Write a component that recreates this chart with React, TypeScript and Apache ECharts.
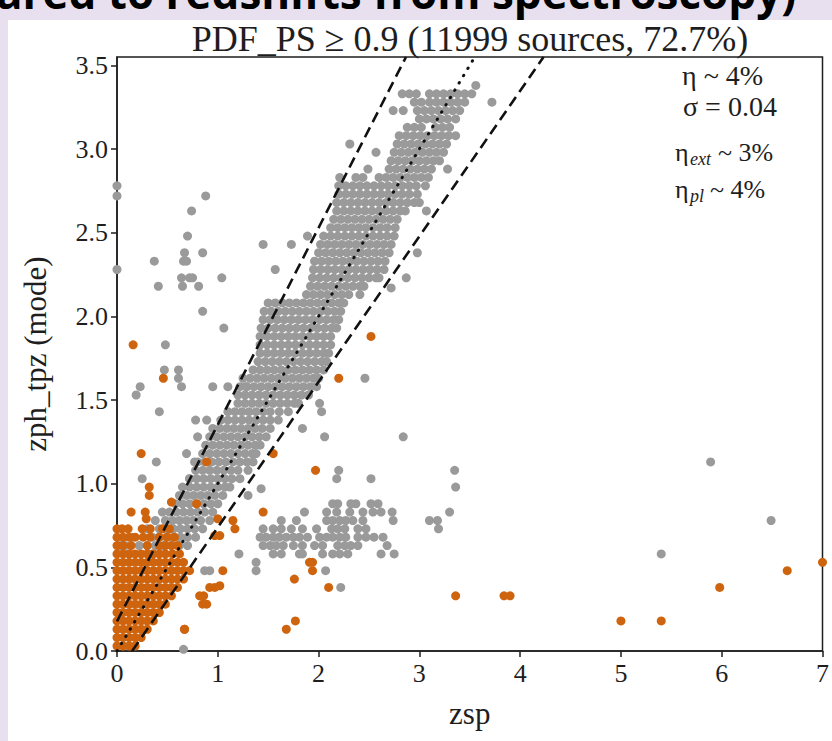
import React, { useEffect, useRef } from "react";
import * as echarts from "echarts";

const xTicks = [0, 1, 2, 3, 4, 5, 6, 7];
const yTicks = [0, 0.5, 1, 1.5, 2, 2.5, 3, 3.5];

// Dense gray band: [zph, zsp values]
const grayBandRows: [number, number[]][] = [
  [3.33, [2.83, 2.9, 2.97, 3.1, 3.17, 3.24, 3.31, 3.38, 3.45, 3.52]],
  [3.28, [2.95, 3.02, 3.1, 3.17, 3.24, 3.31, 3.38, 3.45]],
  [3.23, [2.98, 3.05, 3.12, 3.19, 3.26, 3.33, 3.4]],
  [3.18, [3.0, 3.07, 3.14, 3.21, 3.28, 3.36]],
  [3.13, [2.88, 2.95, 3.02, 3.16, 3.23, 3.3]],
  [3.08, [2.8, 2.87, 2.94, 3.01, 3.08, 3.15, 3.22, 3.29, 3.36]],
  [3.03, [2.78, 2.85, 2.92, 2.99, 3.06, 3.13, 3.2, 3.27]],
  [2.98, [2.75, 2.82, 2.89, 2.96, 3.03, 3.1, 3.17, 3.24]],
  [2.93, [2.72, 2.79, 2.86, 2.93, 3.0, 3.07, 3.14, 3.2]],
  [2.88, [2.7, 2.77, 2.84, 2.91, 2.98, 3.05, 3.12]],
  [2.83, [2.37, 2.44, 2.6, 2.67, 2.74, 2.81, 2.88, 2.95, 3.02, 3.09]],
  [2.78, [2.2, 2.27, 2.34, 2.41, 2.48, 2.55, 2.62, 2.69, 2.76, 2.83, 2.9, 2.97, 3.06]],
  [2.73, [2.2, 2.27, 2.34, 2.41, 2.48, 2.55, 2.62, 2.69, 2.76, 2.83, 2.9, 2.98]],
  [2.68, [2.18, 2.25, 2.32, 2.39, 2.46, 2.53, 2.6, 2.67, 2.74, 2.81, 2.88, 2.95, 3.0]],
  [2.63, [2.18, 2.25, 2.32, 2.39, 2.46, 2.53, 2.6, 2.67, 2.74, 2.81, 2.86]],
  [2.58, [2.15, 2.22, 2.29, 2.36, 2.43, 2.5, 2.57, 2.64, 2.71, 2.78]],
  [2.53, [2.12, 2.19, 2.26, 2.33, 2.4, 2.47, 2.54, 2.61, 2.68, 2.76]],
  [2.48, [2.05, 2.12, 2.19, 2.26, 2.33, 2.4, 2.47, 2.54, 2.61, 2.68, 2.75]],
  [2.43, [2.02, 2.09, 2.16, 2.23, 2.3, 2.37, 2.44, 2.51, 2.58, 2.65, 2.72]],
  [2.38, [2.0, 2.07, 2.14, 2.21, 2.28, 2.35, 2.42, 2.49, 2.56, 2.63, 2.7]],
  [2.33, [1.96, 2.03, 2.1, 2.17, 2.24, 2.31, 2.38, 2.45, 2.52, 2.59, 2.66]],
  [2.28, [1.95, 2.02, 2.09, 2.16, 2.23, 2.3, 2.37, 2.44, 2.51, 2.58, 2.65]],
  [2.23, [1.94, 2.01, 2.08, 2.15, 2.22, 2.29, 2.36, 2.43, 2.5, 2.57, 2.6]],
  [2.18, [1.92, 1.99, 2.06, 2.13, 2.2, 2.27, 2.34, 2.41, 2.45]],
  [2.13, [1.88, 1.95, 2.02, 2.09, 2.16, 2.23, 2.3]],
  [2.08, [1.5, 1.57, 1.64, 1.71, 1.78, 1.85, 1.92, 1.99, 2.06, 2.13, 2.2, 2.25]],
  [2.03, [1.46, 1.53, 1.6, 1.67, 1.74, 1.81, 1.88, 1.95, 2.02, 2.09, 2.16, 2.22]],
  [1.98, [1.45, 1.52, 1.59, 1.66, 1.73, 1.8, 1.87, 1.94, 2.01, 2.08, 2.15, 2.2]],
  [1.93, [1.43, 1.5, 1.57, 1.64, 1.71, 1.78, 1.85, 1.92, 1.99, 2.06, 2.13, 2.18]],
  [1.88, [1.42, 1.49, 1.56, 1.63, 1.7, 1.77, 1.84, 1.91, 1.98, 2.05, 2.12]],
  [1.83, [1.42, 1.49, 1.56, 1.63, 1.7, 1.77, 1.84, 1.91, 1.98, 2.05, 2.12]],
  [1.78, [1.42, 1.49, 1.56, 1.63, 1.7, 1.77, 1.84, 1.91, 1.98, 2.05, 2.1]],
  [1.73, [1.4, 1.47, 1.54, 1.61, 1.68, 1.75, 1.82, 1.89, 1.96, 2.03, 2.08]],
  [1.68, [1.35, 1.42, 1.49, 1.56, 1.63, 1.7, 1.77, 1.84, 1.91, 1.98, 2.05]],
  [1.63, [1.25, 1.32, 1.39, 1.46, 1.53, 1.6, 1.67, 1.74, 1.81, 1.88, 1.95, 2.0]],
  [1.58, [1.22, 1.29, 1.36, 1.43, 1.5, 1.57, 1.64, 1.71, 1.78, 1.85, 1.92, 1.98]],
  [1.53, [1.2, 1.27, 1.34, 1.41, 1.48, 1.55, 1.62, 1.69, 1.76, 1.83, 1.9]],
  [1.48, [1.2, 1.27, 1.34, 1.41, 1.48, 1.55, 1.62, 1.69, 1.76, 1.8]],
  [1.43, [1.1, 1.17, 1.24, 1.31, 1.38, 1.45, 1.52, 1.61, 1.7]],
  [1.38, [1.03, 1.1, 1.17, 1.24, 1.31, 1.38, 1.45, 1.52, 1.6]],
  [1.33, [0.95, 1.02, 1.09, 1.16, 1.23, 1.3, 1.37, 1.44, 1.52]],
  [1.28, [0.92, 0.99, 1.06, 1.13, 1.2, 1.27, 1.34, 1.41, 1.48]],
  [1.23, [0.88, 0.95, 1.02, 1.09, 1.16, 1.23, 1.3, 1.37, 1.42]],
  [1.18, [0.85, 0.92, 0.99, 1.06, 1.13, 1.2, 1.27, 1.34, 1.38]],
  [1.13, [0.8, 0.87, 0.94, 1.01, 1.08, 1.15, 1.22, 1.29, 1.35]],
  [1.08, [0.78, 0.85, 0.92, 0.99, 1.06, 1.13, 1.2, 1.3]],
  [1.03, [0.72, 0.79, 0.86, 0.93, 1.0, 1.07, 1.14, 1.22]],
  [0.98, [0.65, 0.72, 0.79, 0.86, 0.93, 1.0, 1.07, 1.12]],
  [0.93, [0.62, 0.69, 0.76, 0.83, 0.9, 0.97, 1.05]],
  [0.88, [0.58, 0.65, 0.72, 0.79, 0.86, 0.93, 1.0]],
  [0.83, [0.52, 0.59, 0.66, 0.73, 0.8, 0.87, 0.95]],
  [0.78, [0.48, 0.55, 0.62, 0.69, 0.76, 0.83, 0.92]],
  [0.73, [0.42, 0.49, 0.56, 0.63, 0.7, 0.77, 0.85]],
  [0.68, [0.35, 0.42, 0.49, 0.56, 0.63, 0.7, 0.78]],
  [0.63, [0.3, 0.38, 0.46, 0.54, 0.62, 0.7]],
];

// Gray cluster of catastrophic outliers at low zph, high zsp
const grayClusterRows: [number, number[]][] = [
  [0.88, [2.14, 2.19, 2.32, 2.37, 2.52, 2.59]],
  [0.83, [1.86, 2.08, 2.18, 2.31, 2.44, 2.54, 2.62, 2.73, 3.3]],
  [0.78, [1.63, 1.78, 2.08, 2.14, 2.21, 2.27, 2.34, 2.44, 2.74, 3.1, 3.18, 6.49]],
  [0.73, [1.45, 1.55, 1.63, 1.73, 1.84, 1.98, 2.13, 2.19, 2.26, 2.39, 2.47, 3.19]],
  [0.68, [1.42, 1.48, 1.55, 1.61, 1.68, 1.75, 1.81, 1.89, 2.01, 2.08, 2.14, 2.21, 2.27, 2.39, 2.47, 2.55, 2.64]],
  [0.63, [1.45, 1.52, 1.58, 1.65, 1.75, 1.84, 1.96, 2.04, 2.19, 2.26, 2.32, 2.39, 2.68]],
  [0.58, [1.21, 1.55, 1.63, 1.81, 1.84, 2.04, 2.14, 2.21, 2.29, 2.62, 2.75, 5.4]],
];

// Individual gray points [zsp, zph]
const grayPoints: number[][] = [
  [0.0, 2.78], [0.0, 2.72], [0.0, 2.28],
  [0.88, 2.72], [0.74, 2.63], [0.7, 2.48], [0.67, 2.38], [0.85, 2.38], [0.37, 2.33], [0.66, 2.33],
  [0.69, 2.33], [0.64, 2.23], [0.72, 2.23], [0.75, 2.23], [1.04, 2.23], [0.41, 2.18], [0.65, 2.18],
  [0.81, 2.18], [0.85, 2.03], [1.06, 1.93],
  [1.45, 2.43], [1.73, 2.43], [1.89, 2.48], [1.57, 2.28],
  [0.48, 1.83], [0.47, 1.68], [0.61, 1.68], [0.61, 1.63], [0.23, 1.58], [0.64, 1.58], [0.19, 1.53],
  [0.42, 1.43], [0.95, 1.58], [1.1, 1.58], [1.28, 1.58], [0.78, 1.38], [0.89, 1.38], [0.8, 1.28],
  [0.39, 1.13], [0.25, 1.03], [0.69, 1.18], [0.77, 1.13], [0.72, 1.03],
  [1.3, 0.93], [1.43, 0.97], [1.84, 1.33], [2.06, 1.28], [2.84, 1.28], [2.2, 1.08], [2.18, 1.03],
  [2.52, 1.03], [3.35, 1.08], [3.36, 0.98],
  [1.38, 0.53], [1.38, 0.48], [0.87, 0.48], [0.92, 0.48], [2.07, 0.48], [2.22, 0.38], [0.66, 0.01],
  [5.89, 1.13],
  [2.01, 1.48], [2.03, 1.43], [2.46, 1.63], [2.41, 2.13], [2.72, 2.17], [2.87, 2.23], [2.98, 2.38],
  [3.07, 2.63], [2.21, 2.83], [2.31, 3.03], [2.57, 2.98], [2.49, 2.88], [3.28, 2.88], [2.74, 3.23],
  [2.84, 3.23], [3.56, 3.38], [3.72, 3.28],
  [0.08, 0.63], [0.15, 0.68], [0.22, 0.63], [0.3, 0.73], [0.38, 0.78], [0.12, 0.58], [0.45, 0.83],
  [0.35, 0.58], [0.03, 0.63],
];

// Dense orange wedge: [zph, zsp values]
const orangeRows: [number, number[]][] = [
  [0.73, [0.0, 0.05, 0.11, 0.25, 0.33, 0.45, 0.52]],
  [0.68, [0.0, 0.06, 0.12, 0.18, 0.26, 0.33, 0.42, 0.5, 0.57]],
  [0.63, [0.0, 0.06, 0.14, 0.3, 0.42, 0.48, 0.54, 0.6]],
  [0.58, [0.0, 0.06, 0.12, 0.18, 0.24, 0.3, 0.36, 0.42, 0.48, 0.55, 0.62]],
  [0.53, [0.0, 0.06, 0.12, 0.18, 0.24, 0.3, 0.36, 0.42, 0.48, 0.54, 0.6, 0.66]],
  [0.48, [0.0, 0.06, 0.12, 0.18, 0.24, 0.3, 0.36, 0.42, 0.48, 0.54, 0.6, 0.66, 0.72]],
  [0.43, [0.0, 0.06, 0.12, 0.18, 0.24, 0.3, 0.36, 0.42, 0.48, 0.54, 0.6, 0.66]],
  [0.38, [0.0, 0.06, 0.12, 0.18, 0.24, 0.3, 0.36, 0.42, 0.48, 0.54, 0.6, 0.92, 0.97]],
  [0.33, [0.0, 0.06, 0.12, 0.18, 0.24, 0.3, 0.36, 0.42, 0.48, 0.54, 0.82, 0.86]],
  [0.28, [0.0, 0.06, 0.12, 0.18, 0.24, 0.3, 0.36, 0.42, 0.48, 0.85, 0.89]],
  [0.23, [0.0, 0.06, 0.12, 0.18, 0.24, 0.3, 0.36, 0.42]],
  [0.18, [0.0, 0.06, 0.12, 0.18, 0.24, 0.3, 0.36]],
  [0.13, [0.0, 0.06, 0.12, 0.18, 0.24, 0.3, 0.67]],
  [0.08, [0.0, 0.06, 0.12, 0.18, 0.24]],
  [0.03, [0.0, 0.06, 0.12, 0.18]],
];

// Individual orange points [zsp, zph]
const orangePoints: number[][] = [
  [0.16, 1.83], [0.46, 1.63], [0.24, 1.18], [0.32, 0.98], [0.32, 0.93], [0.14, 0.83], [0.28, 0.83],
  [0.29, 0.79], [0.54, 0.89], [0.79, 0.88], [0.89, 1.13], [1.0, 0.79], [1.15, 0.78], [1.17, 0.73],
  [0.97, 0.69], [1.02, 0.69], [1.05, 0.48], [1.02, 0.39], [0.67, 0.13], [1.55, 1.18], [1.97, 1.08],
  [1.45, 0.83], [1.94, 0.53], [1.91, 0.53], [1.94, 0.48], [1.76, 0.43], [2.1, 0.38], [1.68, 0.13],
  [1.77, 0.18], [2.52, 1.88], [2.2, 1.63], [3.36, 0.33], [3.84, 0.33], [3.9, 0.33], [5.0, 0.18],
  [5.4, 0.18], [5.98, 0.38], [6.65, 0.48], [7.0, 0.53],
];

// Reference lines: zph = zsp, and |zph - zsp| = 0.15 (1 + zph)
const oneToOne = [[0, 0], [3.55, 3.55]];
const upperBound = [[0, 0.1765], [2.8675, 3.55]];
const lowerBound = [[0.15, 0], [4.2325, 3.55]];

const SERIF = "'Liberation Serif', 'Times New Roman', serif";
const INK = "#1e1e1e";

function fromRows(rows: [number, number[]][]): number[][] {
  const out: number[][] = [];
  rows.forEach(([y, xs]) => xs.forEach((x) => out.push([x, y])));
  return out;
}

export default function App() {
  const ref = useRef<HTMLDivElement>(null);

  useEffect(() => {
    if (!ref.current) return;
    const chart = echarts.init(ref.current, undefined, { renderer: "svg" });
    const grayData = [...fromRows(grayBandRows), ...fromRows(grayClusterRows), ...grayPoints];
    const orangeData = [...fromRows(orangeRows), ...orangePoints];
    const axisCommon = {
      axisLine: { show: true, lineStyle: { color: INK, width: 1.5 } },
      axisTick: { show: true, inside: false, length: 6, lineStyle: { color: INK, width: 1.5 } },
      splitLine: { show: false },
      nameLocation: "middle" as const,
      nameTextStyle: { fontFamily: SERIF, fontSize: 31, color: INK },
    };
    const annot = (x: number, y: number, text: string, size: number, italic = false) => ({
      type: "text",
      x,
      y,
      z: 100,
      style: {
        text,
        fontFamily: SERIF,
        fontSize: size,
        fontStyle: italic ? "italic" : "normal",
        fill: INK,
        align: "left",
        verticalAlign: "middle",
      },
    });
    chart.setOption({
      animation: false,
      grid: {
        left: 117,
        right: 8,
        top: 57,
        bottom: 90,
        show: true,
        borderColor: INK,
        borderWidth: 1.5,
        backgroundColor: "#ffffff",
      },
      xAxis: {
        type: "value",
        min: 0,
        max: 7,
        interval: 1,
        ...axisCommon,
        axisLabel: {
          fontFamily: SERIF,
          fontSize: 26,
          color: INK,
          margin: 9,
          customValues: xTicks,
          formatter: (v: number) => String(v),
        },
        axisTick: { ...axisCommon.axisTick, customValues: xTicks },
        name: "zsp",
        nameGap: 47,
      },
      yAxis: {
        type: "value",
        min: 0,
        max: 3.55,
        interval: 0.5,
        ...axisCommon,
        axisLabel: {
          fontFamily: SERIF,
          fontSize: 26,
          color: INK,
          margin: 9,
          customValues: yTicks,
          formatter: (v: number) => v.toFixed(1),
        },
        axisTick: { ...axisCommon.axisTick, customValues: yTicks },
        name: "zph_tpz (mode)",
        nameGap: 66,
        nameRotate: 90,
      },
      graphic: [
        {
          type: "text",
          x: -4,
          y: -8,
          z: 100,
          style: {
            text: "ared to redshifts from spectroscopy)",
            fontFamily: "'Open Sans', 'Noto Sans', sans-serif",
            fontWeight: "bold",
            fontSize: 44,
            fill: "#000",
            align: "left",
            verticalAlign: "middle",
          },
        },
        {
          type: "text",
          x: 470,
          y: 39,
          z: 100,
          style: {
            text: "PDF_PS \u2265 0.9 (11999 sources, 72.7%)",
            fontFamily: SERIF,
            fontSize: 36,
            fill: INK,
            align: "center",
            verticalAlign: "middle",
          },
        },
        annot(682, 75, "\u03b7 ~ 4%", 28),
        annot(683, 106, "\u03c3 = 0.04", 28),
        annot(675, 152, "\u03b7", 26),
        annot(690, 159, "ext", 18, true),
        annot(718, 152, "~ 3%", 26),
        annot(675, 189, "\u03b7", 26),
        annot(690, 196, "pl", 18, true),
        annot(710, 189, "~ 4%", 26),
      ],
      series: [
        {
          type: "scatter",
          data: grayData,
          symbol: "circle",
          symbolSize: 9,
          itemStyle: { color: "#9a9a9a", opacity: 1 },
          clip: true,
          silent: true,
          z: 2,
        },
        {
          type: "scatter",
          data: orangeData,
          symbol: "circle",
          symbolSize: 9,
          itemStyle: { color: "#cf640f", opacity: 1 },
          clip: true,
          silent: true,
          z: 3,
        },
        {
          type: "line",
          data: oneToOne,
          symbol: "none",
          silent: true,
          z: 5,
          lineStyle: { color: "#111", width: 3, type: [0.5, 8], cap: "round" },
        },
        {
          type: "line",
          data: upperBound,
          symbol: "none",
          silent: true,
          z: 5,
          lineStyle: { color: "#111", width: 2.6, type: [11, 6] },
        },
        {
          type: "line",
          data: lowerBound,
          symbol: "none",
          silent: true,
          z: 5,
          lineStyle: { color: "#111", width: 2.6, type: [11, 6] },
        },
      ],
    });
    return () => chart.dispose();
  }, []);

  return (
    <div
      style={{
        position: "fixed",
        left: 0,
        top: 0,
        width: 832,
        height: 741,
        background: "#e8e0ee",
        overflow: "hidden",
      }}
    >
      <div
        style={{ position: "absolute", left: 8, top: 20, right: 0, bottom: 0, background: "#ffffff" }}
      />
      <div ref={ref} style={{ position: "absolute", left: 0, top: 0, width: 832, height: 741 }} />
    </div>
  );
}
